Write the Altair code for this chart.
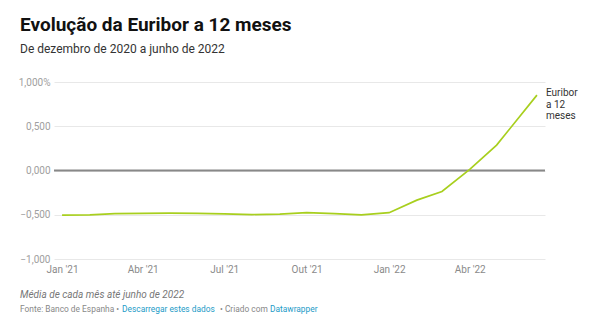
import altair as alt
import pandas as pd

dates = ["2021-01-01", "2021-02-01", "2021-03-01", "2021-04-01", "2021-05-01", "2021-06-01",
         "2021-07-01", "2021-08-01", "2021-09-01", "2021-10-01", "2021-11-01", "2021-12-01",
         "2022-01-01", "2022-02-01", "2022-03-01", "2022-04-01", "2022-05-01", "2022-06-15"]
values = [-0.505, -0.501, -0.487, -0.484, -0.481, -0.484,
          -0.491, -0.498, -0.492, -0.477, -0.487, -0.502,
          -0.477, -0.335, -0.237, 0.013, 0.287, 0.852]
y_ticks = [-1.0, -0.5, 0.0, 0.5, 1.0]
x_ticks = ["2021-01-01", "2021-04-01", "2021-07-01", "2021-10-01", "2022-01-01", "2022-04-01"]
series_label = "Euribor\na 12\nmeses"

df = pd.DataFrame({"date": dates, "value": values})

def ms(s):
    return int(pd.Timestamp(s, tz="UTC").timestamp() * 1000)

x_domain = [ms("2020-12-23"), ms("2022-06-24")]
x_vals = [ms(d) for d in x_ticks]

FONT = "Roboto"
W, H = 491, 177

x_enc = alt.X(
    "date:T",
    scale=alt.Scale(type="utc", domain=x_domain),
    axis=alt.Axis(
        values=x_vals, grid=False, domain=False, ticks=False,
        labelPadding=5, labelFontSize=10, labelColor="#8a8a8a", labelFont=FONT,
        labelExpr="['Jan','Fev','Mar','Abr','Mai','Jun','Jul','Ago','Set','Out','Nov','Dez'][utcmonth(datum.value)] + \" '\" + utcFormat(datum.value, '%y')",
        title=None,
    ),
)
y_enc = alt.Y(
    "value:Q",
    scale=alt.Scale(domain=[-1, 1], nice=False, zero=False),
    axis=alt.Axis(
        values=y_ticks, grid=True, gridColor="#e8e8e8", gridWidth=1,
        domain=False, ticks=False, labelPadding=4, labelFontSize=10,
        labelColor="#a0a0a0", labelFont=FONT,
        labelExpr="(datum.value < 0 ? '\u2212' : '') + replace(format(abs(datum.value), '.3f'), '.', ',') + (datum.value == 1 ? '%' : '')",
        title=None,
    ),
)

zero = alt.Chart(pd.DataFrame({"value": [0.0]})).mark_rule(color="#888888", strokeWidth=2).encode(
    y=y_enc, x=alt.value(0), x2=alt.value(W)
)

line = alt.Chart(df).mark_line(color="#a8cf1e", strokeWidth=1.7).encode(x=x_enc, y=y_enc)

label = alt.Chart(pd.DataFrame({"t": [series_label]})).mark_text(
    align="left", baseline="top", font=FONT, fontSize=10, color="#333333",
    lineBreak="\n", lineHeight=11.5,
).encode(text="t:N", x=alt.value(W + 1), y=alt.value(6))

footer1 = alt.Chart(pd.DataFrame({"t": ["Média de cada mês até junho de 2022"]})).mark_text(
    align="left", baseline="middle", font=FONT, fontSize=10, fontStyle="italic", color="#777777"
).encode(text="t:N", x=alt.value(-34), y=alt.value(213))

def foot(text, x, color):
    return alt.Chart(pd.DataFrame({"t": [text]})).mark_text(
        align="left", baseline="middle", font=FONT, fontSize=8.4, color=color
    ).encode(text="t:N", x=alt.value(x), y=alt.value(227))

footers = [
    foot("Fonte: Banco de Espanha \u2022", -34, "#888888"),
    foot("Descarregar estes dados", 68, "#1d9bc7"),
    foot("\u2022 Criado com", 166, "#888888"),
    foot("Datawrapper", 216, "#1d9bc7"),
]

chart = alt.layer(zero, line, label, footer1, *footers).properties(
    width=W, height=H,
    title=alt.TitleParams(
        text="Evolução da Euribor a 12 meses",
        subtitle="De dezembro de 2020 a junho de 2022",
        anchor="start", frame="group", dx=-34, offset=22,
        font=FONT, fontSize=19, fontWeight="bold", color="#111111",
        subtitleFont=FONT, subtitleFontSize=12, subtitleColor="#333333", subtitlePadding=9,
    ),
).configure(
    padding={"left": 54, "top": 82, "right": 55, "bottom": 74},
    autosize=alt.AutoSizeParams(type="none"),
    background="white",
).configure_view(stroke=None)

chart.save("out.html", embed_options={"renderer": "svg", "actions": False})
